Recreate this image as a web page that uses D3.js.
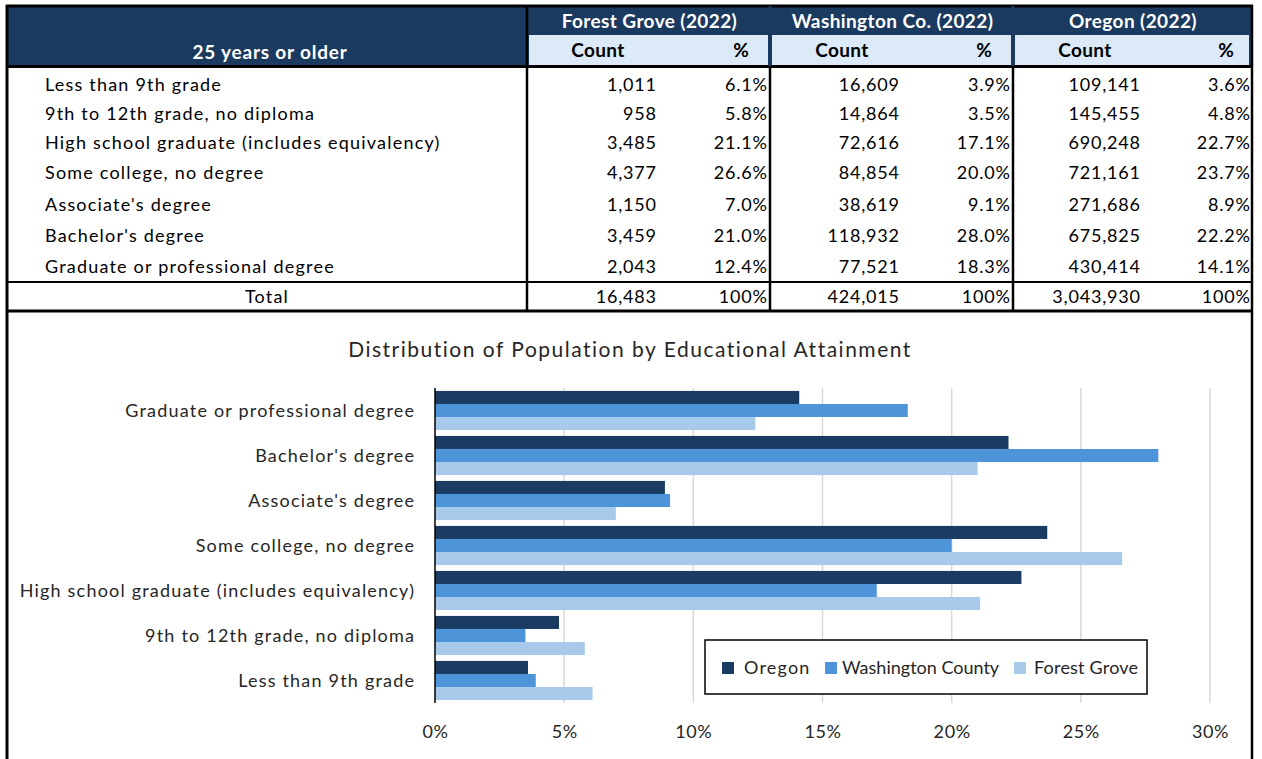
<!DOCTYPE html>
<html><head><meta charset="utf-8">
<script src="https://cdn.jsdelivr.net/npm/d3@7/dist/d3.min.js"></script>
<style>
html,body{margin:0;padding:0;background:#fff;}
svg{display:block;font-family:Lato,"Open Sans",sans-serif;}
</style></head>
<body>
<svg id="c" width="1262" height="759"></svg>
<script>
const categories = ["Less than 9th grade","9th to 12th grade, no diploma","High school graduate (includes equivalency)","Some college, no degree","Associate's degree","Bachelor's degree","Graduate or professional degree"];
const fgCount = ["1,011","958","3,485","4,377","1,150","3,459","2,043"];
const fgPct = [6.1,5.8,21.1,26.6,7.0,21.0,12.4];
const wcCount = ["16,609","14,864","72,616","84,854","38,619","118,932","77,521"];
const wcPct = [3.9,3.5,17.1,20.0,9.1,28.0,18.3];
const orCount = ["109,141","145,455","690,248","721,161","271,686","675,825","430,414"];
const orPct = [3.6,4.8,22.7,23.7,8.9,22.2,14.1];
const totals = {fg:"16,483", wc:"424,015", or:"3,043,930"};
const groupHeaders = ["Forest Grove (2022)","Washington Co. (2022)","Oregon (2022)"];
const seriesNames = ["Oregon","Washington County","Forest Grove"];
const seriesColors = ["#1a3c63","#4e94d8","#a7caeb"];
const xTicks = [0,5,10,15,20,25,30];

const svg = d3.select("#c");
const NAVY = "#1a3a5f", LIGHT = "#dce9f7";
const FS = 18, LS = 1.2;

// ---- Table ----
const T = svg.append("g");
T.append("rect").attr("x",7).attr("y",7).attr("width",1245).attr("height",59).attr("fill",NAVY);
const groupX = [[529,770],[772,1013],[1015,1251]];
groupX.forEach(([a,b],i)=>{
  T.append("rect").attr("x",a).attr("y",35).attr("width",b-a-2).attr("height",30).attr("fill",LIGHT);
  T.append("text").attr("x",(a+b)/2).attr("y",28).attr("text-anchor","middle")
    .attr("fill","#fff").attr("font-weight","bold").attr("font-size",19).attr("letter-spacing",0.4).text(groupHeaders[i]);
});
T.append("text").attr("x",270).attr("y",59).attr("text-anchor","middle")
  .attr("fill","#fff").attr("font-weight","bold").attr("font-size",19).attr("letter-spacing",0.8).text("25 years or older");
const subC = [598,842,1085], subP = [741,984,1226];
subC.forEach((x,i)=>{
  T.append("text").attr("x",x).attr("y",57).attr("text-anchor","middle").attr("font-weight","bold").attr("font-size",19).attr("letter-spacing",0.4).attr("fill","#000").text("Count");
  T.append("text").attr("x",subP[i]).attr("y",57).attr("text-anchor","middle").attr("font-weight","bold").attr("font-size",19).attr("fill","#000").text("%");
});

const rowBase = [91,120,149,179,211,242,273];
const cntX = [656,899,1140], pctX = [767,1010,1250];
const fmtP = d=>d.toFixed(1)+"%";
const NLS = 0.8;
categories.forEach((c,i)=>{
  const y = rowBase[i];
  T.append("text").attr("x",45).attr("y",y).attr("font-size",FS).attr("letter-spacing",LS).attr("fill","#000").text(c);
  const vals = [[fgCount[i],fgPct[i]],[wcCount[i],wcPct[i]],[orCount[i],orPct[i]]];
  vals.forEach(([cn,p],j)=>{
    T.append("text").attr("x",cntX[j]+NLS).attr("y",y).attr("text-anchor","end").attr("font-size",FS).attr("letter-spacing",NLS).text(cn);
    T.append("text").attr("x",pctX[j]+NLS).attr("y",y).attr("text-anchor","end").attr("font-size",FS).attr("letter-spacing",NLS).text(fmtP(p));
  });
});
const ty = 303;
T.append("text").attr("x",267).attr("y",ty).attr("text-anchor","middle").attr("font-size",FS).attr("letter-spacing",LS).text("Total");
[totals.fg,totals.wc,totals.or].forEach((v,j)=>{
  T.append("text").attr("x",cntX[j]+NLS).attr("y",ty).attr("text-anchor","end").attr("font-size",FS).attr("letter-spacing",NLS).text(v);
  T.append("text").attr("x",pctX[j]+NLS).attr("y",ty).attr("text-anchor","end").attr("font-size",FS).attr("letter-spacing",NLS).text("100%");
});
const line=(x1,y1,x2,y2,w,c)=>T.append("line").attr("x1",x1).attr("y1",y1).attr("x2",x2).attr("y2",y2).attr("stroke",c||"#000").attr("stroke-width",w);
line(6,6,1253,6,3);
line(7,5,7,759,3);
line(1252,5,1252,759,2.5);
line(6,66.5,1253,66.5,3);
line(6,282,1253,282,2);
line(6,311,1253,311,3);
[527,770,1013].forEach(x=>line(x,66,x,311,2.5));
line(527,6,527,66,2.5,"#000");
[770,1013].forEach(x=>line(x,6,x,66,3,NAVY));

// ---- Chart ----
const C = svg.append("g");
C.append("text").attr("x",630).attr("y",357).attr("text-anchor","middle").attr("font-size",21).attr("letter-spacing",1.5).attr("fill","#262626")
  .text("Distribution of Population by Educational Attainment");
const x = d3.scaleLinear().domain([0,30]).range([435,1210]);
const order = d3.range(categories.length).reverse();
const y0 = d3.scaleBand().domain(order).range([388,703]).paddingInner(0.13).paddingOuter(0.065);
const y1 = d3.scaleBand().domain(d3.range(3)).range([0,y0.bandwidth()]);
C.append("g").selectAll("line").data(xTicks.slice(1)).join("line")
  .attr("x1",d=>x(d)).attr("x2",d=>x(d)).attr("y1",388).attr("y2",703)
  .attr("stroke","#d9d9d9").attr("stroke-width",1.5);
const series = [orPct,wcPct,fgPct];
const g = C.append("g");
categories.forEach((c,i)=>{
  series.forEach((s,j)=>{
    g.append("rect").attr("x",x(0)).attr("y",y0(i)+y1(j)).attr("width",x(s[i])-x(0)).attr("height",y1.bandwidth())
      .attr("fill",seriesColors[j]);
  });
});
C.append("line").attr("x1",x(0)).attr("x2",x(0)).attr("y1",388).attr("y2",703).attr("stroke","#000").attr("stroke-width",1.5);
C.append("g").selectAll("text").data(d3.range(categories.length)).join("text")
  .attr("x",414+LS).attr("y",i=>y0(i)+y0.bandwidth()/2+6).attr("text-anchor","end")
  .attr("font-size",FS).attr("letter-spacing",LS).attr("fill","#262626").text(i=>categories[i]);
const xa = d3.axisBottom(x).tickValues(xTicks).tickFormat(d=>d+"%").tickSize(0).tickPadding(0);
const ax = C.append("g").attr("transform","translate(0,738)").call(xa);
ax.select(".domain").remove();
ax.selectAll("text").attr("font-size",FS).attr("letter-spacing",0.6).attr("fill","#262626").attr("font-family","Lato,'Open Sans',sans-serif").attr("dy",0);
const L = C.append("g");
L.append("rect").attr("x",705).attr("y",640).attr("width",442).attr("height",54).attr("fill","#fff").attr("stroke","#000").attr("stroke-width",1.5);
const legSq = [722,825,1014], legTx = [744,842,1034];
const legLS = [1.2,0,0.2];
seriesNames.forEach((n,j)=>{
  L.append("rect").attr("x",legSq[j]).attr("y",662).attr("width",12).attr("height",12).attr("fill",seriesColors[j]);
  L.append("text").attr("x",legTx[j]).attr("y",674).attr("font-size",FS).attr("letter-spacing",legLS[j]).attr("fill","#262626").text(n);
});
</script>
</body></html>
